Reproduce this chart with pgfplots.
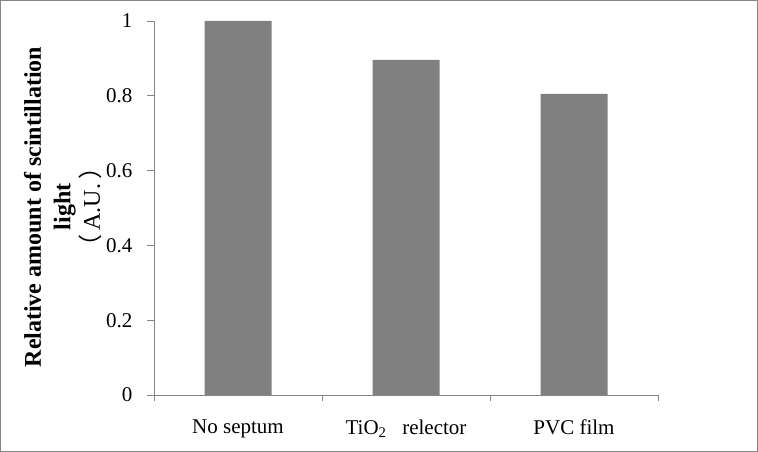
\documentclass[border=0pt]{standalone}
\usepackage{pgfplots}
\pgfplotsset{compat=1.18}
\usepackage{fontspec}
\setmainfont{Liberation Serif}
\newfontfamily\cjk{Noto Sans CJK SC}
\definecolor{bargray}{HTML}{808080}
\definecolor{axgray}{HTML}{868686}
\begin{document}
\begin{tikzpicture}
\useasboundingbox (0,0) rectangle (758bp,452bp);
\draw[axgray, line width=1bp] (0.5bp,0.5bp) rectangle (757.5bp,451.5bp);
\begin{axis}[
  at={(154bp,57bp)}, anchor=south west,
  scale only axis, width=504bp, height=374bp,
  xmin=-0.5, xmax=2.5, ymin=0, ymax=1,
  axis x line*=bottom, axis y line*=left,
  axis line style={axgray, line width=0.8bp},
  ytick={0,0.2,0.4,0.6,0.8,1},
  yticklabels={0,0.2,0.4,0.6,0.8,1},
  tick align=outside,
  major tick length=7bp,
  major y tick style={axgray, line width=0.8bp},
  xtick={0,1,2},
  xticklabels={No septum, TiO\textsubscript{2}\ \ \ relector, PVC film},
  major x tick style={draw=none},
  minor xtick={-0.5,0.5,1.5,2.5},
  minor tick length=6bp,
  minor x tick style={axgray, line width=0.8bp},
  ticklabel style={font=\fontsize{21bp}{24bp}\selectfont},
  xticklabel style={yshift=-14bp},
  yticklabel style={xshift=-11bp},
  ybar, bar width=67bp,
  /pgf/number format/assume math mode=true,
]
\addplot[fill=bargray, draw=none] coordinates {(0,1) (1,0.896) (2,0.805)};
\end{axis}
\node[rotate=90, align=center, font=\fontsize{24bp}{29.5bp}\selectfont] at (63bp,245bp)
  {\bfseries Relative amount of scintillation\\ \bfseries light\\ {\cjk （}\,A.U.\,{\cjk ）}};
\end{tikzpicture}
\end{document}
